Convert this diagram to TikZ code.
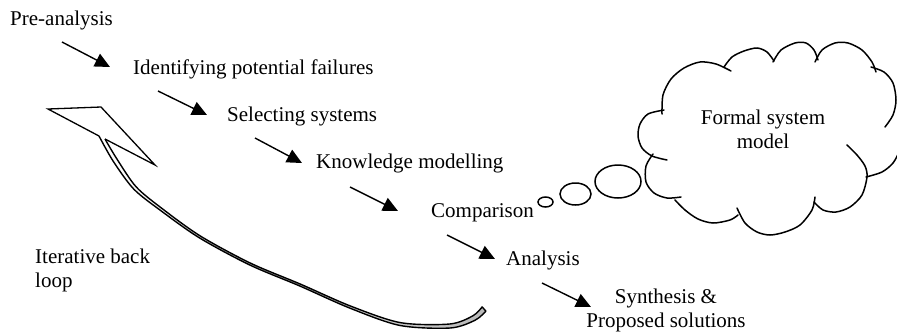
\documentclass[tikz,border=0pt]{standalone}
\usepackage{fontspec}
\setmainfont{Liberation Serif}
\usetikzlibrary{arrows.meta,shapes.geometric}
\begin{document}
\begin{tikzpicture}[x=1pt,y=-1pt,
  lbl/.style={inner sep=0pt, font=\fontsize{21}{23.5}\selectfont},
  steparrow/.style={line width=1.4pt, -{Triangle[length=15pt,width=14pt]}},
  cloudline/.style={line width=1.5pt, line cap=round},
  bubble/.style={draw, ellipse, line width=1.5pt, inner sep=0pt},
  ribbon/.style={line width=1.4pt, line join=round, left color=white, right color=gray!55},
  headstyle/.style={line width=1.3pt, fill=white, line join=miter}]
\useasboundingbox (0,0) rectangle (897,333);

% step labels
\node[lbl, anchor=base west] (pre) at (10,25) {Pre-analysis};
\node[lbl, anchor=base west] (ident) at (133,74) {Identifying potential failures};
\node[lbl, anchor=base west] (select) at (227,121) {Selecting systems};
\node[lbl, anchor=base west] (know) at (316,168) {Knowledge modelling};
\node[lbl, anchor=base west] (comp) at (431,217) {Comparison};
\node[lbl, anchor=base west] (anal) at (506,265) {Analysis};
\node[lbl, anchor=base, align=center] (synth) at (666,327) {Synthesis \&\\Proposed solutions};
\node[lbl, anchor=base west, align=left] (iter) at (35,287) {Iterative back\\loop};
\node[lbl, anchor=base, align=center] (formal) at (763,148) {Formal system\\model};

% step arrows
\coordinate (s1) at (62,42);   \coordinate (e1) at (110,67);
\coordinate (s2) at (158,91);  \coordinate (e2) at (207,115);
\coordinate (s3) at (255,138); \coordinate (e3) at (302,163);
\coordinate (s4) at (350,187); \coordinate (e4) at (398,211);
\coordinate (s5) at (447,235); \coordinate (e5) at (495,259);
\coordinate (s6) at (542,283); \coordinate (e6) at (591,307);
\foreach \i in {1,...,6} \draw[steparrow] (s\i) -- (e\i);

% thought bubbles
\node[bubble, minimum width=15pt, minimum height=10pt] (b1) at (545.5,202) {};
\node[bubble, minimum width=31pt, minimum height=22pt] (b2) at (575.5,194) {};
\node[bubble, minimum width=46pt, minimum height=33pt] (b3) at (618,181.5) {};

% cloud
\begin{scope}[cloudline]
\draw plot[smooth] coordinates {(664,110) (648,114) (640,124) (638,136) (642,148) (652,156) (667,160)};
\draw plot[smooth] coordinates {(662,114) (663,95) (671,79) (684,68) (700,62) (716,64) (731,71)};
\draw plot[smooth] coordinates {(724,67) (732,57) (744,51) (757,48) (767,52) (774,61)};
\draw plot[smooth] coordinates {(773,62) (781,50) (795,43) (806,43) (814,50) (818,60)};
\draw plot[smooth] coordinates {(815,62) (822,50) (835,43) (848,43) (862,50) (872,62) (876,72)};
\draw plot[smooth] coordinates {(871,67) (884,72) (893,83) (896,100) (893,115) (885,127)};
\draw plot[smooth] coordinates {(866,177) (882,172) (893,163) (900,150) (903,140)};
\draw plot[smooth] coordinates {(847,145) (857,155) (865,166) (867,177) (862,195) (850,207) (836,212) (823,210) (814,202)};
\draw plot[smooth] coordinates {(815,197) (812,210) (800,225) (785,232) (770,235) (757,232) (745,223) (737,208)};
\draw plot[smooth] coordinates {(738,215) (730,220) (713,223) (698,219) (685,210) (675,200)};
\draw plot[smooth] coordinates {(653,154) (646,166) (646,182) (654,193) (667,198) (681,197)};
\end{scope}

% iterative back loop arrow
\draw[headstyle] (99,136) -- (48,109) -- (101,107) -- (155,165) -- (105,139);
\draw[ribbon]
  plot[smooth] coordinates {(105,139) (116.8,158.8) (136.2,186.9) (162.7,209.0) (200.5,236.1) (250.4,263.1) (300.4,284.1) (350.4,306.0) (400.3,322.6) (449.8,324.0) (472.9,315.8) (482.1,306.9)}
  -- plot[smooth] coordinates {(485.9,311.1) (475.1,320.2) (450.2,328.0) (399.7,325.4) (349.6,308.0) (299.6,285.9) (249.6,264.9) (199.5,237.9) (161.3,211.0) (133.8,189.1) (113.2,161.2) (99,136)};
\end{tikzpicture}
\end{document}
